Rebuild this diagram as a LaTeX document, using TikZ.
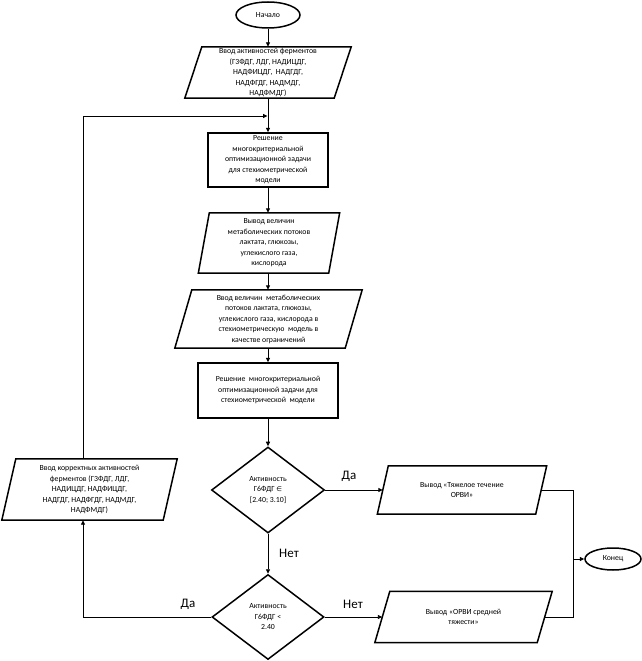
\documentclass[tikz,border=0pt]{standalone}
\usepackage{fontspec}
\setmainfont{Carlito}
\newfontfamily\symfont{DejaVu Sans}
\usetikzlibrary{arrows.meta,shapes.geometric,calc}
\newcommand\drawpara[2]{\draw[boxline] ([xshift=#2pt]#1.north west) -- ([xshift=#2pt]#1.north east) -- ([xshift=-#2pt]#1.south east) -- ([xshift=-#2pt]#1.south west) -- cycle;}
\begin{document}
\begin{tikzpicture}[x=1pt,y=-1pt,
  txt/.style={font=\fontsize{7.8}{10.5}\selectfont, align=center, inner sep=0pt},
  boxline/.style={line width=1.5pt, line join=miter},
  pbox/.style={txt, rectangle, draw=none},
  rbox/.style={txt, rectangle, draw, boxline},
  term/.style={txt, ellipse, draw, boxline},
  dia/.style={txt, diamond, draw, boxline, font=\fontsize{7.8}{10.5}\selectfont},
  conn/.style={line width=0.9pt},
  arr/.style={conn, -{Triangle[length=4.5pt,width=4pt]}},
  lbl/.style={font=\fontsize{13}{15}\selectfont, inner sep=0pt}]
\useasboundingbox (0,0) rectangle (642,661);

\node[term, minimum width=64pt, minimum height=26pt] (start) at (268,15) {Начало};

\node[pbox, minimum width=149pt, minimum height=51pt] (p1) at (268,72.5)
  {Ввод активностей ферментов\\(Г3ФДГ, ЛДГ, НАДИЦДГ,\\НАДФИЦДГ,\ \ НАДГДГ,\\НАДФГДГ, НАДМДГ,\\НАДФМДГ)};
\drawpara{p1}{8.5}

\coordinate (j1) at (268,116);

\node[rbox, minimum width=120pt, minimum height=54pt] (r1) at (268,160)
  {Решение\\многокритериальной\\оптимизационной задачи\\для стехиометрической\\модели};

\node[pbox, minimum width=130pt, minimum height=60pt] (p2) at (269,243)
  {Вывод величин\\метаболических потоков\\лактата, глюкозы,\\углекислого газа,\\кислорода};
\drawpara{p2}{5.5}

\node[pbox, minimum width=170pt, minimum height=58pt] (p3) at (268.5,319)
  {Ввод величин\ \ метаболических\\потоков лактата, глюкозы,\\углекислого газа, кислорода в\\стехиометрическую\ \ модель в\\качестве ограничений};
\drawpara{p3}{8.5}

\node[rbox, minimum width=140pt, minimum height=55pt] (r2) at (268,390.5)
  {Решение\ \ многокритериальной\\оптимизационной задачи для\\стехиометрической\ \ модели};

\node[dia, minimum width=113pt, minimum height=86pt] (d1) at (268,490)
  {Активность\\Г6ФДГ {\symfont\fontsize{6.5}{10}\selectfont ∈}\\{}[2.40; 3.10]};

\node[dia, minimum width=112pt, minimum height=85pt] (d2) at (268,617)
  {Активность\\Г6ФДГ <\\2.40};

\node[pbox, minimum width=158pt, minimum height=48pt] (p4) at (462,490)
  {Вывод «Тяжелое течение\\ОРВИ»};
\drawpara{p4}{5.5}

\node[pbox, minimum width=162pt, minimum height=51pt] (p6) at (463.5,617)
  {Вывод «ОРВИ средней\\тяжести»};
\drawpara{p6}{7.5}

\node[pbox, minimum width=161pt, minimum height=61pt] (p5) at (89.5,489.5)
  {Ввод корректных активностей\\ферментов (Г3ФДГ, ЛДГ,\\НАДИЦДГ, НАДФИЦДГ,\\НАДГДГ, НАДФГДГ, НАДМДГ,\\НАДФМДГ)};
\drawpara{p5}{7}

\node[term, minimum width=56pt, minimum height=22pt] (end) at (613,559) {Конец};

\coordinate (bx) at (83,0);
\coordinate (rb) at (573,0);

\node[lbl] (l1) at (349,476) {Да};
\node[lbl] (l2) at (289,553) {Нет};
\node[lbl] (l3) at (188,604) {Да};
\node[lbl] (l4) at (353,604) {Нет};

\draw[arr] (start) -- (p1);
\draw[arr] (p1.south) -- (p1.south |- r1.north);
\draw[arr] (r1.south) -- (r1.south |- p2.north);
\draw[arr] (p2.south -| r1.south) -- (p3.north -| r1.south);
\draw[arr] (p3.south -| r1.south) -- (r2.north);
\draw[arr] (r2) -- (d1);
\draw[arr] (d1) -- (p4);
\draw[arr] (d1) -- (d2);
\draw[arr] (d2) -- (p6);
\draw[arr] (d2.west) -- (d2.west -| bx) -- (bx |- p5.south);
\draw[arr] (bx |- p5.north) -- (bx |- j1) -- ([xshift=-0.5pt]j1);
\draw[conn] (p4.east) -- (p4.east -| rb) -- (p6.east -| rb) -- (p6.east);
\draw[arr] (rb |- end.west) -- (end.west);
\end{tikzpicture}
\end{document}
